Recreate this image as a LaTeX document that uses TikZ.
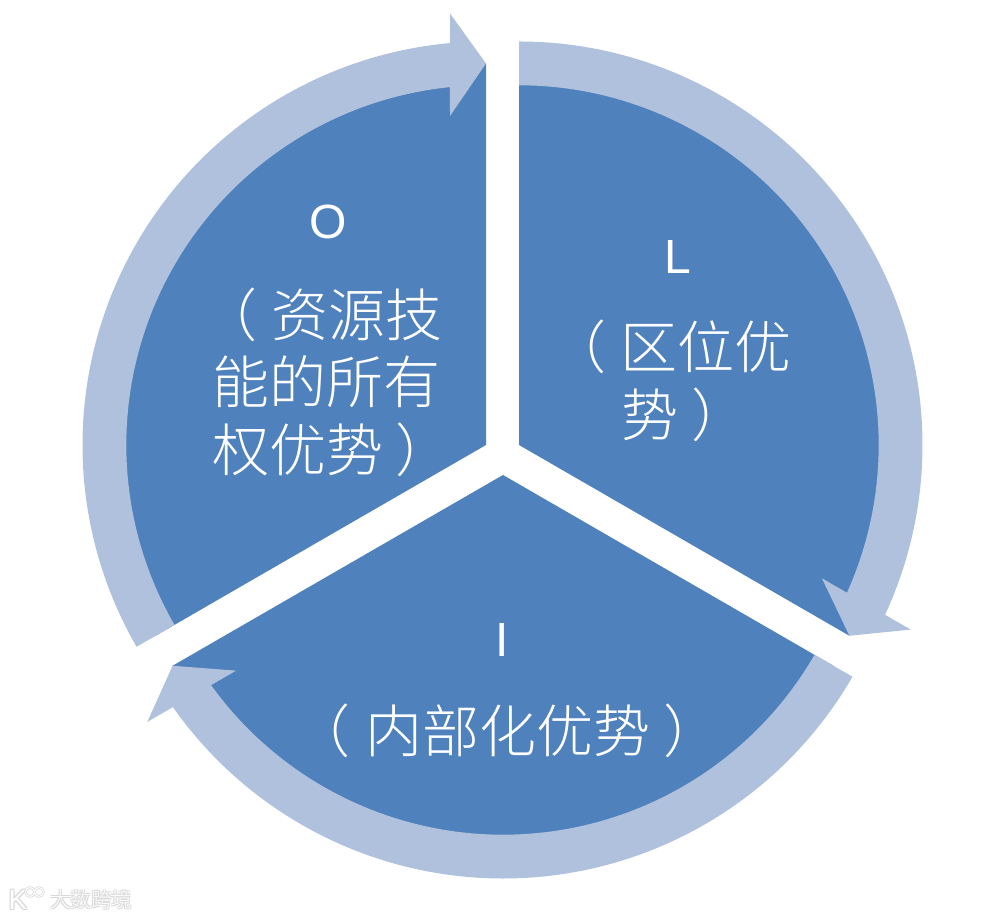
\documentclass[tikz,border=0pt]{standalone}
\usepackage{fontspec}
\setmainfont{Liberation Sans}
\newfontfamily\cjk{Noto Sans CJK SC Light}
\definecolor{pieblue}{HTML}{4F81BD}
\definecolor{ringblue}{HTML}{B0C1DD}
\definecolor{markgrey}{HTML}{D9D9D9}
\tikzset{
  sector/.style={fill=pieblue},
  ringarrow/.style={fill=ringblue},
  cjktext/.style={text=white,font=\cjk\fontsize{57}{57}\selectfont,inner sep=0pt,anchor=center},
  lettertext/.style={text=white,font=\fontsize{48}{48}\selectfont,inner sep=0pt,anchor=center},
  markfont/.style={font=\cjk\fontsize{20.5}{20.5}\selectfont,inner sep=0pt},
  logofont/.style={font=\fontsize{28}{28}\selectfont,inner sep=0pt}
}
% left and right full-width brackets set apart from their neighbours
\newcommand{\lbr}{\kern-15pt（\kern15pt}
\newcommand{\rbr}{\kern13pt）\kern-13pt}
% #1 style, #2 x, #3 y, #4 text: a white text with a grey halo
\newcommand{\halotext}[4]{%
  \foreach \dx/\dy in {-1/-1,1/-1,-1/1,1/1}
    {\node[#1,text=markgrey] at (#2+\dx,#3+\dy) {#4};}
  \node[#1,text=white] at (#2,#3) {#4};}
% #1 centre, #2 rotation of the slice from the canonical one (head pointing up at 90 degrees)
\newcommand{\pieslice}[2]{%
  \begin{scope}[shift={#1},rotate=#2]
    \fill[sector] (0,0) -- (210:381.5pt) arc[start angle=210,end angle=90,radius=381.5pt] -- cycle;
    \fill[ringarrow] (210:403.5pt) arc[start angle=210,end angle=95.11,radius=403.5pt]
      -- (-36pt,431.5pt) -- (0pt,381.5pt) -- (-36pt,329pt) -- (95.75:359.7pt)
      arc[start angle=95.75,end angle=210,radius=359.7pt] -- cycle;
  \end{scope}}
\begin{document}
\begin{tikzpicture}[x=1pt,y=1pt]
\useasboundingbox (0,0) rectangle (1004,919);
\fill[white] (0,0) rectangle (1004,919);
\pieslice{(519,474)}{-120}
\pieslice{(503,444)}{120}
\pieslice{(486,474)}{0}

\node[lettertext] (oletter) at (328,697) {O};
\node[cjktext] (oa) at (329,604) {\lbr 资源技};
\node[cjktext] (ob) at (326,537) {能的所有};
\node[cjktext] (oc) at (326,469) {权优势\rbr};

\node[lettertext] (lletter) at (678,662) {L};
\node[cjktext] (la) at (678,572) {\lbr 区位优};
\node[cjktext] (lb) at (678,504) {势\rbr};

\node[lettertext] (iletter) at (502,279) {I};
\node[cjktext] (ia) at (508,188) {\lbr 内部化优势\rbr};

% watermark
\halotext{markfont}{91}{19}{大数跨境}
\halotext{logofont}{18}{19}{K}
\draw[markgrey,line width=2.4pt] (30,27) circle (4.5pt) (39,27) circle (4.5pt);
\draw[white,line width=1pt] (30,27) circle (4.5pt) (39,27) circle (4.5pt);
\end{tikzpicture}
\end{document}
